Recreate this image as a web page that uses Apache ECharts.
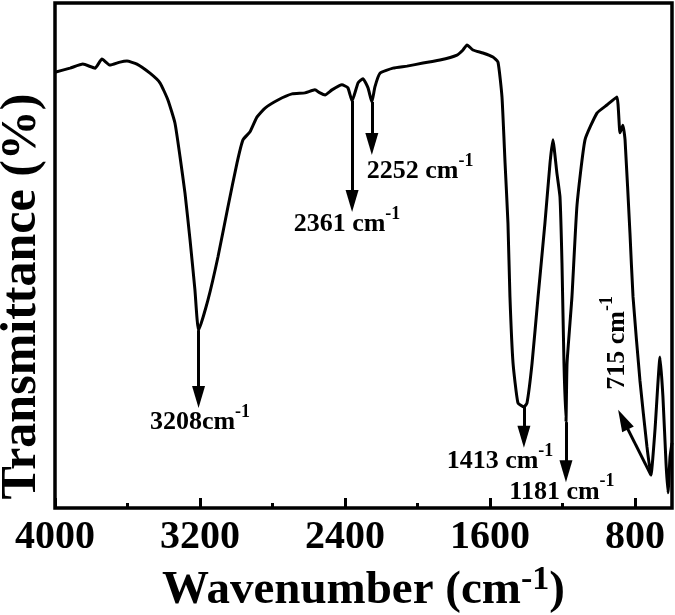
<!DOCTYPE html>
<html>
<head>
<meta charset="utf-8">
<script src="https://cdn.jsdelivr.net/npm/echarts@6/dist/echarts.min.js"></script>
<style>
  html, body { margin: 0; padding: 0; background: #fff; }
  #chart { width: 675px; height: 615px; }
</style>
</head>
<body>
<div id="chart"></div>
<script>
// FTIR spectrum (transmittance in arbitrary 0-100 units)
const wavenumber = [4000, 3917, 3846, 3779, 3741, 3697, 3641, 3603, 3548, 3476, 3421, 3377, 3338, 3310, 3283, 3255, 3228, 3208,
  3156, 3101, 3046, 2996, 2963, 2924, 2886, 2841, 2770, 2692, 2621, 2566, 2538, 2510, 2472, 2417, 2384, 2361, 2328, 2301, 2273,
  2252, 2235, 2207, 2135, 2058, 1970, 1876, 1782, 1749, 1727, 1694, 1639, 1584, 1556, 1534, 1517, 1501, 1490, 1473, 1446, 1413,
  1396, 1368, 1335, 1297, 1269, 1253, 1231, 1214, 1203, 1192, 1181, 1175, 1148, 1120, 1076, 1010, 955, 900, 883, 867, 855, 828,
  811, 773, 734, 712, 690, 662, 646, 629, 618, 607, 596]
const transmittance = [86.3, 87.1, 87.9, 87.1, 88.9, 87.7, 88.3, 88.5, 87.9, 86.1, 84.2, 80.8, 76.2, 69.5, 62.4, 53.1, 43.2, 35.2,
  41.2, 49.7, 59.6, 68.3, 72.9, 74.5, 77.4, 79.2, 80.8, 82.0, 82.2, 82.8, 82.2, 81.8, 82.8, 83.8, 83.2, 80.6, 84.2, 85.0, 83.2,
  80.4, 83.4, 86.1, 87.1, 87.5, 88.1, 88.7, 89.7, 90.7, 91.7, 90.7, 90.1, 89.3, 88.3, 81.4, 68.3, 56.4, 41.8, 28.7, 20.8, 20.0,
  20.8, 28.7, 41.8, 56.4, 68.3, 72.9, 66.3, 61.6, 48.5, 28.7, 17.0, 28.7, 41.8, 60.0, 72.9, 78.2, 79.8, 81.4, 74.3, 75.8, 72.9, 54.5,
  41.8, 25.3, 12.1, 6.5, 15.4, 29.9, 22.0, 8.9, 3.0, 10.1, 12.9]

const tickLabels = [4000, 3200, 2400, 1600, 800]
const minorTicks = [3600, 2800, 2000, 1200]

// peak annotations: label, arrow start (on the curve), arrow end, text anchor
const peakNames = ['3208cm', '2361 cm', '2252 cm', '1413 cm', '1181 cm', '715 cm']
const arrowFrom = [[3208, 35.2], [2361, 80.6], [2252, 80.4], [1413, 20.0], [1181, 17.0], [712, 6.5]]
const arrowTo = [[3208, 22.0], [2361, 60.8], [2252, 72.1], [1413, 14.1], [1181, 7.3], [866, 17.5]]
const labelAt = [[3200, 17.0], [2389, 56.2], [1986, 66.7], [1545, 9.3], [1203, 3.2], [899, 32.7]]

const serif = '"Liberation Serif", "Times New Roman", serif'

const supRich = (size, supSize, lh) => ({
  n: { fontFamily: serif, fontWeight: 'bold', fontSize: size, color: '#000', lineHeight: lh },
  s: { fontFamily: serif, fontWeight: 'bold', fontSize: supSize, color: '#000', verticalAlign: 'top', lineHeight: supSize }
})

const chart = echarts.init(document.getElementById('chart'), null, { renderer: 'canvas' })

const option = {
  animation: false,
  backgroundColor: '#fff',
  grid: {
    left: 55, right: 3, top: 3, bottom: 107,
    outerBoundsMode: 'none',
    containLabel: false,
    show: true, borderColor: '#000', borderWidth: 3.5, backgroundColor: 'transparent'
  },
  xAxis: [
    {
      type: 'value', min: 596, max: 4000, inverse: true, position: 'bottom',
      axisLine: { show: false },
      splitLine: { show: false },
      axisTick: { show: true, inside: true, length: 10, customValues: tickLabels, lineStyle: { color: '#000', width: 3 } },
      axisLabel: {
        customValues: tickLabels, margin: 10,
        formatter: v => String(v),
        fontFamily: serif, fontWeight: 'bold', fontSize: 40, color: '#000'
      },
      name: '{n|Wavenumber (cm}{s|-1}{n|)}',
      nameLocation: 'middle', nameGap: 51,
      nameTextStyle: { rich: supRich(47, 34, 56) }
    },
    {
      type: 'value', min: 596, max: 4000, inverse: true, position: 'bottom',
      axisLine: { show: false }, splitLine: { show: false }, axisLabel: { show: false },
      axisTick: { show: true, inside: true, length: 5, customValues: minorTicks, lineStyle: { color: '#000', width: 3 } }
    }
  ],
  yAxis: {
    type: 'value', min: 0, max: 100,
    axisLine: { show: false }, axisTick: { show: false }, axisLabel: { show: false }, splitLine: { show: false },
    name: 'Transmittance (%)', nameLocation: 'middle', nameRotate: 90, nameGap: 8,
    nameTextStyle: { fontFamily: serif, fontWeight: 'bold', fontSize: 50, color: '#000', padding: [0, 82, 0, 0] }
  },
  series: [{
    type: 'line',
    data: wavenumber.map((w, i) => [w, transmittance[i]]),
    showSymbol: false,
    smooth: 0.15,
    lineStyle: { color: '#000', width: 3 },
    silent: true,
    markLine: {
      silent: true,
      symbol: ['none', 'triangle'],
      label: { show: false },
      lineStyle: { color: '#000', width: 3, type: 'solid' },
      data: arrowFrom.map((p, i) => [
        { coord: p, symbol: 'none' },
        { coord: arrowTo[i], symbol: 'triangle', symbolSize: [13, 22] }
      ])
    },
    markPoint: {
      silent: true,
      symbol: 'rect',
      symbolSize: 1,
      itemStyle: { color: 'rgba(0,0,0,0)' },
      data: peakNames.map((name, i) => ({
        coord: labelAt[i],
        label: {
          show: true,
          position: 'inside',
          rotate: i === 5 ? 90 : 0,
          formatter: '{n|' + name + '}{s|-1}',
          rich: supRich(26, 18, 38)
        }
      }))
    }
  }]
}

chart.setOption(option)
</script>
</body>
</html>
